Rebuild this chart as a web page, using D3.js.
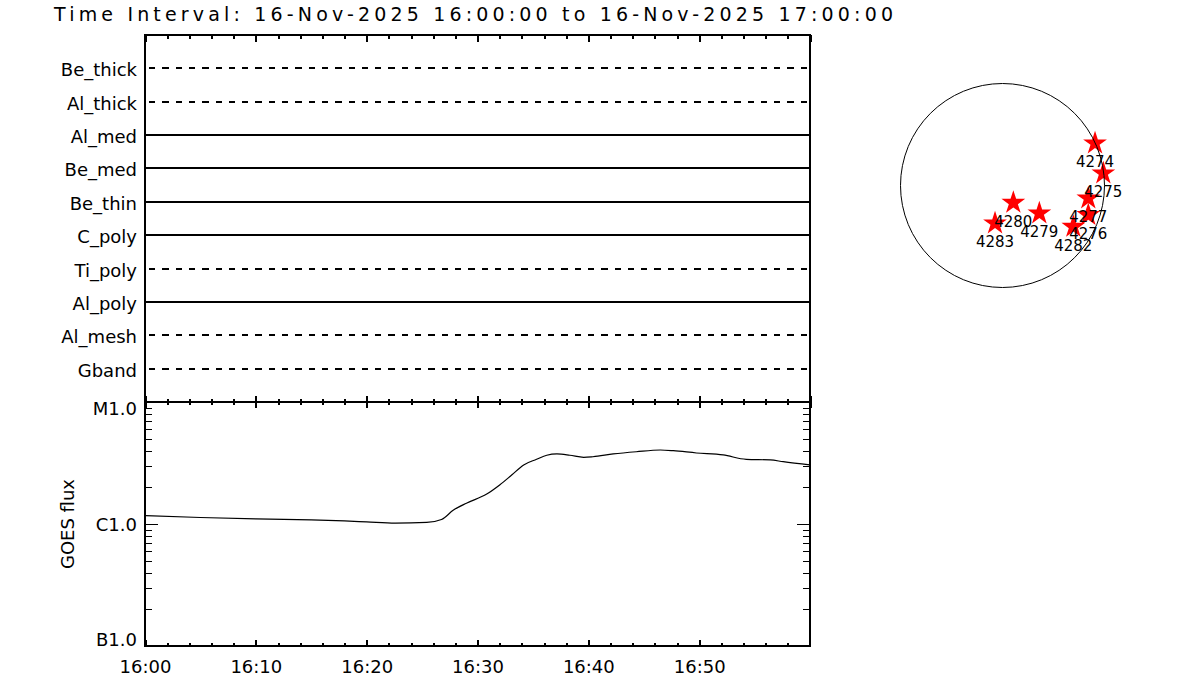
<!DOCTYPE html>
<html><head><meta charset="utf-8">
<script src="https://cdn.jsdelivr.net/npm/d3@7"></script>
<style>
body{margin:0;background:#fff;}
svg{display:block;font-family:"DejaVu Sans",sans-serif;}
</style></head><body>
<svg id="chart" width="1200" height="700"></svg>
<script>
// ---------------- data ----------------
const titleText = "Time Interval: 16-Nov-2025 16:00:00 to 16-Nov-2025 17:00:00";
const dayStr = "2025-11-16";
const timeStart = "16:00:00";
const timeEnd = "17:00:00";

const filters     = ["Be_thick","Al_thick","Al_med","Be_med","Be_thin","C_poly","Ti_poly","Al_poly","Al_mesh","Gband"];
const filterStyle = ["dashed","dashed","solid","solid","solid","solid","dashed","solid","dashed","dashed"];
const filterStart = ["16:00:00","16:00:00","16:00:00","16:00:00","16:00:00","16:00:00","16:00:00","16:00:00","16:00:00","16:00:00"];
const filterEnd   = ["17:00:00","17:00:00","17:00:00","17:00:00","17:00:00","17:00:00","17:00:00","17:00:00","17:00:00","17:00:00"];

const xTickLabels = ["16:00","16:10","16:20","16:30","16:40","16:50"];

const goesTimes = ["16:00:00","16:05:00","16:10:00","16:15:00","16:18:00","16:20:00","16:22:35","16:25:25","16:26:45","16:27:50",
                   "16:29:00","16:30:50","16:32:00","16:33:05","16:34:10","16:35:20","16:36:15","16:37:10","16:38:20","16:39:35",
                   "16:40:25","16:42:15","16:44:20","16:46:30","16:47:40","16:49:45","16:52:10","16:54:15","16:56:25","16:57:35","17:00:00"];
const goesFlux  = [1.17e-6,1.13e-6,1.10e-6,1.08e-6,1.06e-6,1.04e-6,1.015e-6,1.03e-6,1.09e-6,1.30e-6,
                   1.48e-6,1.76e-6,2.09e-6,2.52e-6,3.05e-6,3.39e-6,3.66e-6,3.75e-6,3.66e-6,3.52e-6,
                   3.56e-6,3.75e-6,3.91e-6,4.04e-6,3.99e-6,3.82e-6,3.68e-6,3.39e-6,3.35e-6,3.24e-6,3.05e-6];
const fluxTickValues = [1e-7,1e-6,1e-5];
const fluxTickLabels = ["B1.0","C1.0","M1.0"];
const fluxAxisTitle = "GOES flux";

const solarRadius = 969; // arcsec
const regionIds = ["4274","4275","4277","4276","4282","4280","4279","4283"];
const regionX   = [879, 958, 815, 815, 673, 103, 350, -71];
const regionY   = [401, 116, -122, -280, -391, -163, -264, -359];

// ---------------- chart ----------------
const svg = d3.select("#chart");
const parse = d3.timeParse("%Y-%m-%d %H:%M:%S");
const T = s => parse(dayStr + " " + s);
const t0 = T(timeStart), t1 = T(timeEnd);

const L = 145, R = 810, TOP = 35, MID = 402, BOT = 646;
const x = d3.scaleTime().domain([t0, t1]).range([L, R]);
const yRow = d3.scalePoint().domain(filters).range([TOP, MID]).padding(1);
const yFlux = d3.scaleLog().domain([1e-7, 1e-5]).range([BOT, MID]);

// title
svg.append("text").attr("x", 54).attr("y", 21)
  .attr("font-size", 19).attr("textLength", 839).attr("lengthAdjust", "spacing")
  .text(titleText);

// top panel filter lines
const rows = filters.map((f, i) => ({f, style: filterStyle[i], s: T(filterStart[i]), e: T(filterEnd[i])}));
svg.append("g").selectAll("line").data(rows).join("line")
  .attr("x1", d => x(d.s)).attr("x2", d => x(d.e))
  .attr("y1", d => Math.round(yRow(d.f))).attr("y2", d => Math.round(yRow(d.f)))
  .attr("stroke", "#000").attr("stroke-width", 2)
  .attr("shape-rendering", "crispEdges")
  .attr("stroke-dasharray", d => d.style === "dashed" ? "6.3,7" : null)
  .attr("stroke-dashoffset", d => d.style === "dashed" ? -4 : null);

svg.append("g").selectAll("text").data(filters).join("text")
  .attr("x", 137).attr("y", d => Math.round(yRow(d)) + 7.5)
  .attr("text-anchor", "end").attr("font-size", 18)
  .text(d => d);

// x ticks
const majors = d3.timeMinute.every(10).range(t0, new Date(+t1 + 1));
const minors = d3.timeMinute.every(2).range(t0, t1).filter(d => d.getMinutes() % 10 !== 0);
const labelMajors = majors.filter(d => +d < +t1);

function styleAxis(g, w) {
  g.select(".domain").remove();
  g.selectAll(".tick line").attr("stroke", "#000").attr("stroke-width", w).attr("shape-rendering", "crispEdges");
}
function xTicks(axisFn, y, vals, size) {
  svg.append("g").attr("transform", `translate(0,${y})`)
    .call(axisFn(x).tickValues(vals).tickSize(size).tickSizeOuter(0).tickFormat(""))
    .call(g => styleAxis(g, 2));
}
xTicks(d3.axisTop, TOP, majors, -7);
xTicks(d3.axisTop, TOP, minors, -4);
xTicks(d3.axisBottom, MID, majors, -6);
xTicks(d3.axisBottom, MID, minors, -3);
xTicks(d3.axisTop, MID, majors, -6);
xTicks(d3.axisTop, MID, minors, -3);
xTicks(d3.axisBottom, BOT, minors, -3);
svg.append("g").attr("transform", `translate(0,${BOT})`)
  .call(d3.axisBottom(x).tickValues(labelMajors).tickSize(-6).tickSizeOuter(0).tickPadding(14)
        .tickFormat((d, i) => xTickLabels[i]))
  .call(g => styleAxis(g, 2))
  .call(g => g.selectAll("text").attr("font-size", 18).attr("font-family", "DejaVu Sans").attr("fill", "#000"));

// y ticks (flux)
const fluxMinors = [];
fluxTickValues.slice(0, -1).forEach(dec => { for (let m = 2; m <= 9; m++) fluxMinors.push(m * dec); });
function yTicks(axisFn, xp, vals, size) {
  svg.append("g").attr("transform", `translate(${xp},0)`)
    .call(axisFn(yFlux).tickValues(vals).tickSize(size).tickSizeOuter(0).tickFormat(""))
    .call(g => styleAxis(g, 1));
}
yTicks(d3.axisLeft, L, fluxTickValues, -13);
yTicks(d3.axisLeft, L, fluxMinors, -7);
yTicks(d3.axisRight, R, fluxTickValues, -13);
yTicks(d3.axisRight, R, fluxMinors, -7);

svg.append("g").selectAll("text").data(fluxTickValues).join("text")
  .attr("x", 137)
  .attr("y", d => Math.max(MID + 13, Math.min(BOT, yFlux(d) + 6.5)))
  .attr("text-anchor", "end").attr("font-size", 18)
  .text((d, i) => fluxTickLabels[i]);

svg.append("text").attr("transform", `translate(74,${(MID + BOT) / 2}) rotate(-90)`)
  .attr("text-anchor", "middle").attr("font-size", 18).text(fluxAxisTitle);

// GOES curve
const goes = goesTimes.map((t, i) => ({t: T(t), v: goesFlux[i]}));
svg.append("path").datum(goes)
  .attr("d", d3.line().x(d => x(d.t)).y(d => yFlux(d.v)).curve(d3.curveMonotoneX))
  .attr("fill", "none").attr("stroke", "#000").attr("stroke-width", 1.2);

// frames
svg.append("rect").attr("x", L).attr("y", TOP).attr("width", R - L).attr("height", MID - TOP)
  .attr("fill", "none").attr("stroke", "#000").attr("stroke-width", 2).attr("shape-rendering", "crispEdges");
svg.append("rect").attr("x", L).attr("y", MID).attr("width", R - L).attr("height", BOT - MID)
  .attr("fill", "none").attr("stroke", "#000").attr("stroke-width", 2).attr("shape-rendering", "crispEdges");

// solar disk
const cx = 1002.5, cy = 185.5, rpx = 102;
const sx = d3.scaleLinear().domain([-solarRadius, solarRadius]).range([cx - rpx, cx + rpx]);
const sy = d3.scaleLinear().domain([-solarRadius, solarRadius]).range([cy + rpx, cy - rpx]);
const regions = regionIds.map((id, i) => ({id, x: regionX[i], y: regionY[i]}));

const disk = svg.append("g");
disk.selectAll("path.star").data(regions).join("path").attr("class", "star")
  .attr("d", d3.symbol().type(d3.symbolStar).size(175))
  .attr("transform", d => `translate(${sx(d.x)},${sy(d.y)})`)
  .attr("fill", "#ff0000");
disk.append("circle").attr("cx", sx(0)).attr("cy", sy(0)).attr("r", sx(solarRadius) - sx(0))
  .attr("fill", "none").attr("stroke", "#000").attr("stroke-width", 1);
disk.selectAll("text").data(regions).join("text")
  .attr("x", d => sx(d.x)).attr("y", d => sy(d.y) + 24)
  .attr("text-anchor", "middle").attr("font-size", 15).text(d => d.id);
</script>
</body></html>
